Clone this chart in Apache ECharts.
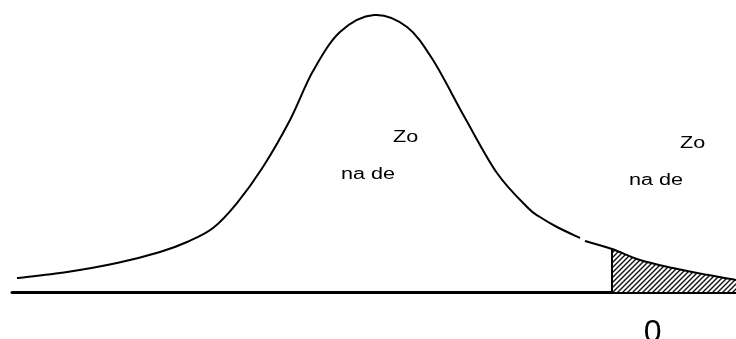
<!DOCTYPE html>
<html>
<head>
<meta charset="utf-8">
<script src="https://cdn.jsdelivr.net/npm/echarts@6/dist/echarts.min.js"></script>
<style>
  html, body { margin: 0; padding: 0; background: #fff; }
  #main { width: 736px; height: 339px; }
</style>
</head>
<body>
<div id="main"></div>
<script>
// curve: z (horizontal) and density (height)
var leftZ = [-3.945, -3.39, -2.84, -2.365, -2.066, -1.779, -1.514, -1.227, -0.928, -0.674, -0.376, 0, 0.365, 0.652, 1.006, 1.359, 1.691, 1.834, 2.022, 2.276];
var leftD = [0.0202, 0.0289, 0.0418, 0.0577, 0.0722, 0.0924, 0.1284, 0.1804, 0.2482, 0.3188, 0.3752, 0.3997, 0.3824, 0.3348, 0.2511, 0.1717, 0.1227, 0.1082, 0.0938, 0.0779];
var tailZ = [2.331, 2.63, 2.939, 3.304, 3.68, 4.0];
var tailD = [0.0736, 0.0621, 0.0462, 0.0346, 0.0248, 0.0173];
var cutZ = 2.63;

// annotations
var noteTexts = ["Zo", "na de", "Zo", "na de"];
var noteZ = [0.21, -0.365, 3.381, 2.818];
var noteD = [0.2231, 0.1697, 0.2144, 0.1610];
var tickText = "0";
var tickZ = 2.98;
var tickD = -0.0596;

// hatch pattern
var tile = document.createElement("canvas");
tile.width = 5;
tile.height = 5;
var ctx = tile.getContext("2d");
ctx.fillStyle = "#fff";
ctx.fillRect(0, 0, 5, 5);
ctx.strokeStyle = "#111";
ctx.lineWidth = 1.4;
ctx.beginPath();
ctx.moveTo(-1, 6); ctx.lineTo(6, -1);
ctx.moveTo(-1, 1); ctx.lineTo(1, -1);
ctx.moveTo(4, 6); ctx.lineTo(6, 4);
ctx.stroke();

// catmull-rom through pixel points -> svg path
function spline(pts) {
  var d = "M" + pts[0][0] + " " + pts[0][1];
  for (var i = 0; i < pts.length - 1; i++) {
    var p0 = pts[i - 1] || pts[i], p1 = pts[i], p2 = pts[i + 1], p3 = pts[i + 2] || pts[i + 1];
    var c1 = [p1[0] + (p2[0] - p0[0]) / 6, p1[1] + (p2[1] - p0[1]) / 6];
    var c2 = [p2[0] - (p3[0] - p1[0]) / 6, p2[1] - (p3[1] - p1[1]) / 6];
    d += " C" + c1[0] + " " + c1[1] + " " + c2[0] + " " + c2[1] + " " + p2[0] + " " + p2[1];
  }
  return d;
}

function renderCurve(params, api) {
  var toPx = function (zs, ds) {
    return zs.map(function (z, i) { return api.coord([z, ds[i]]); });
  };
  var left = toPx(leftZ, leftD);
  var tail = toPx(tailZ, tailD);
  var shadePts = tail.slice(tailZ.indexOf(cutZ));
  var base0 = api.coord([cutZ, 0]);
  var base1 = api.coord([tailZ[tailZ.length - 1], 0]);
  var shadePath = spline(shadePts) + " L" + base1[0] + " " + base1[1] + " L" + base0[0] + " " + base0[1] + " Z";
  return {
    type: "group",
    children: [
      { type: "path", shape: { pathData: shadePath }, style: { fill: { image: tile, repeat: "repeat" }, stroke: null } },
      { type: "path", shape: { pathData: spline(left) }, style: { fill: null, stroke: "#000", lineWidth: 2 } },
      { type: "path", shape: { pathData: spline(tail) }, style: { fill: null, stroke: "#000", lineWidth: 2 } },
      { type: "line", shape: { x1: base0[0], y1: base0[1], x2: shadePts[0][0], y2: shadePts[0][1] }, style: { stroke: "#000", lineWidth: 2 } }
    ]
  };
}

var chart = echarts.init(document.getElementById("main"));

var option = {
  animation: false,
  backgroundColor: "#fff",
  grid: { left: 12, right: 0, top: 1, bottom: 47 },
  xAxis: {
    type: "value",
    min: -4,
    max: 4,
    axisLine: { show: true, onZero: false, lineStyle: { color: "#000", width: 3 } },
    axisTick: { show: false },
    axisLabel: { show: false },
    splitLine: { show: false }
  },
  yAxis: {
    type: "value",
    min: 0,
    max: 0.42,
    show: false,
    splitLine: { show: false }
  },
  series: [
    {
      type: "custom",
      data: [[0, 0]],
      clip: false,
      renderItem: renderCurve,
      z: 3
    },
    {
      type: "custom",
      data: noteTexts.map(function (t, i) { return [noteZ[i], noteD[i], t]; }).concat([[tickZ, tickD, tickText]]),
      clip: false,
      renderItem: function (params, api) {
        var pt = api.coord([api.value(0), api.value(1)]);
        var isTick = params.dataIndex === noteTexts.length;
        return {
          type: "text",
          x: pt[0],
          y: pt[1],
          scaleX: isTick ? 1 : 1.35,
          style: {
            text: api.value(2),
            fill: "#000",
            font: (isTick ? "32px" : "16px") + " 'Liberation Sans', Arial, sans-serif",
            align: "left",
            verticalAlign: "middle"
          }
        };
      },
      z: 5
    }
  ]
};

chart.setOption(option);
</script>
</body>
</html>
